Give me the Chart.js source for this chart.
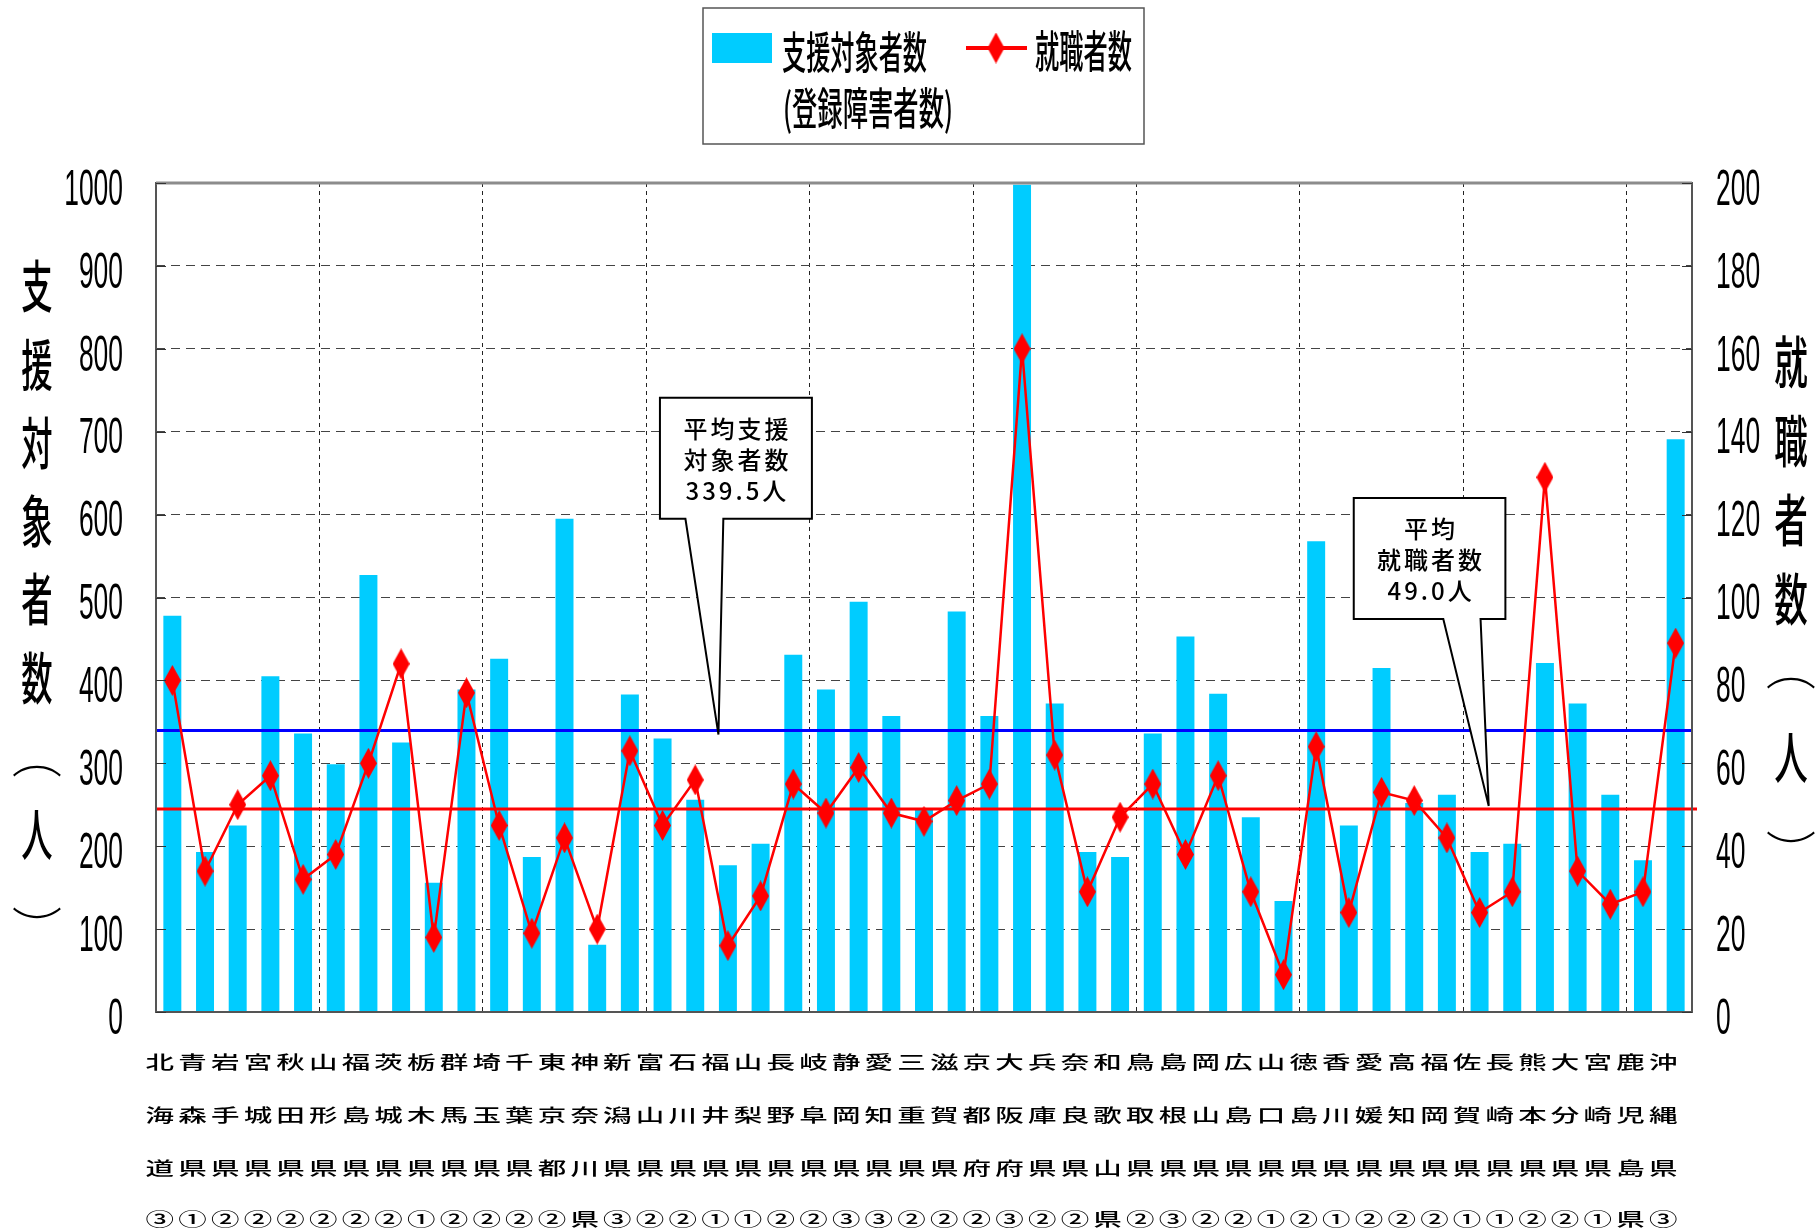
<!DOCTYPE html>
<html lang="ja">
<head>
<meta charset="utf-8">
<title>支援対象者数と就職者数</title>
<script src="https://cdn.jsdelivr.net/npm/chart.js@4.4.1/dist/chart.umd.min.js"></script>
<style>
  html, body { margin: 0; padding: 0; background: #fff; }
  canvas { display: block; }
</style>
</head>
<body>
<canvas id="chart" width="1820" height="1230"></canvas>
<script>
// categories: prefecture name + circled rank (4 vertical rows)
const prefectures = [
  '北海道', '青森県', '岩手県', '宮城県', '秋田県', '山形県', '福島県', '茨城県', '栃木県', '群馬県',
  '埼玉県', '千葉県', '東京都', '神奈川県', '新潟県', '富山県', '石川県', '福井県', '山梨県', '長野県',
  '岐阜県', '静岡県', '愛知県', '三重県', '滋賀県', '京都府', '大阪府', '兵庫県', '奈良県', '和歌山県',
  '鳥取県', '島根県', '岡山県', '広島県', '山口県', '徳島県', '香川県', '愛媛県', '高知県', '福岡県',
  '佐賀県', '長崎県', '熊本県', '大分県', '宮崎県', '鹿児島県', '沖縄県'
];
const ranks = [
  '③', '①', '②', '②', '②', '②', '②', '②', '①', '②',
  '②', '②', '②', '', '③', '②', '②', '①', '①', '②',
  '②', '③', '③', '②', '②', '②', '③', '②', '②', '',
  '②', '③', '②', '②', '①', '②', '①', '②', '②', '②',
  '①', '①', '②', '②', '①', '', '③'
];

// 支援対象者数（登録障害者数） - left axis
const supportCounts = [
  478, 193, 225, 405, 336, 299, 527, 325, 156, 389,
  426, 187, 595, 81, 383, 330, 256, 177, 203, 431,
  389, 495, 357, 245, 483, 357, 998, 372, 193, 187,
  336, 453, 384, 235, 134, 568, 225, 415, 252, 262,
  193, 203, 421, 372, 262, 183, 691
];

// 就職者数 - right axis
const jobCounts = [
  80, 34, 50, 57, 32, 38, 60, 84, 18, 77,
  45, 19, 42, 20, 63, 45, 56, 16, 28, 55,
  48, 59, 48, 46, 51, 55, 160, 62, 29, 47,
  55, 38, 57, 29, 9, 64, 24, 53, 51, 42,
  24, 29, 129, 34, 26, 29, 89
];

const avgSupport = 339.5;
const avgJobs = 49.0;

const leftTitle = '支援対象者数︵人︶';
const rightTitle = '就職者数︵人︶';

const JP = '"Noto Sans CJK JP", "Noto Sans CJK SC", sans-serif';
const NARROW = '"Liberation Sans Narrow", "Liberation Sans", sans-serif';

// tall red diamond used as point marker
function makeDiamond(w, h) {
  const c = document.createElement('canvas');
  c.width = w; c.height = h;
  const g = c.getContext('2d');
  g.fillStyle = '#ff0000';
  g.beginPath();
  g.moveTo(w / 2, 0); g.lineTo(w, h / 2); g.lineTo(w / 2, h); g.lineTo(0, h / 2);
  g.closePath();
  g.fill();
  return c;
}
const diamond = makeDiamond(17, 31);

function squash(ctx, text, x, y, sx, sy, align) {
  ctx.save();
  ctx.translate(x, y);
  ctx.scale(sx, sy);
  ctx.textAlign = align || 'center';
  ctx.textBaseline = 'middle';
  ctx.fillText(text, 0, 0);
  ctx.restore();
}

function drawCallout(ctx, c) {
  ctx.save();
  ctx.beginPath();
  ctx.moveTo(c.left, c.top);
  ctx.lineTo(c.right, c.top);
  ctx.lineTo(c.right, c.bottom);
  ctx.lineTo(c.base1, c.bottom);
  ctx.lineTo(c.tipX, c.tipY);
  ctx.lineTo(c.base0, c.bottom);
  ctx.lineTo(c.left, c.bottom);
  ctx.closePath();
  ctx.fillStyle = '#fff';
  ctx.fill();
  ctx.strokeStyle = '#000';
  ctx.lineWidth = 2;
  ctx.stroke();
  ctx.fillStyle = '#000';
  ctx.font = '500 24px ' + JP;
  ctx.letterSpacing = '3px';
  ctx.textAlign = 'center';
  ctx.textBaseline = 'middle';
  const cx = (c.left + c.right) / 2 + 1.5;
  [30.7, 62.2, 92.9].forEach((dy, k) => ctx.fillText(c.lines[k], cx, c.top + dy));
  ctx.restore();
}

const decor = {
  id: 'decor',
  beforeDatasetDraw(chart, args) {
    // average lines go under the 就職者数 line
    if (args.index !== 1) return;
    const { ctx, chartArea: a, scales: { y, y2 } } = chart;
    ctx.save();
    ctx.lineWidth = 3;
    ctx.strokeStyle = '#0000ff';
    let py = y.getPixelForValue(avgSupport);
    ctx.beginPath(); ctx.moveTo(a.left, py); ctx.lineTo(a.right, py); ctx.stroke();
    ctx.strokeStyle = '#ff0000';
    py = y2.getPixelForValue(avgJobs);
    ctx.beginPath(); ctx.moveTo(a.left, py); ctx.lineTo(a.right + 5, py); ctx.stroke();
    ctx.restore();
  },
  afterDraw(chart) {
    const { ctx, chartArea: a, scales: { x, y, y2 } } = chart;
    ctx.save();

    // plot frame
    ctx.strokeStyle = '#555';
    ctx.lineWidth = 2;
    ctx.strokeRect(a.left, a.top, a.right - a.left, a.bottom - a.top);
    ctx.strokeStyle = '#8c8c8c';
    ctx.lineWidth = 3;
    ctx.beginPath(); ctx.moveTo(a.left, a.top); ctx.lineTo(a.right, a.top); ctx.stroke();

    // inward tick marks
    ctx.strokeStyle = '#333';
    ctx.lineWidth = 1;
    y.ticks.forEach(t => {
      const py = Math.round(y.getPixelForValue(t.value)) + 0.5;
      ctx.beginPath();
      ctx.moveTo(a.left, py); ctx.lineTo(a.left + 10, py);
      ctx.moveTo(a.right - 10, py); ctx.lineTo(a.right, py);
      ctx.stroke();
    });

    // tick labels (condensed digits)
    ctx.fillStyle = '#000';
    ctx.font = '50px ' + NARROW;
    const dsx = 14.7 / ctx.measureText('0').width;
    y.ticks.forEach(t => squash(ctx, String(t.value), a.left - 33, y.getPixelForValue(t.value) + 8, dsx, 1, 'right'));
    y2.ticks.forEach(t => squash(ctx, String(t.value), a.right + 24, y2.getPixelForValue(t.value) + 8, dsx, 1, 'left'));

    // vertical category labels (wide, flattened glyphs)
    ctx.font = '500 30px ' + JP;
    const rowY = [50, 103, 156, 207];
    prefectures.forEach((p, i) => {
      const px = x.getPixelForValue(i) - 12.5;
      Array.from(p + ranks[i]).forEach((ch, r) => squash(ctx, ch, px, a.bottom + rowY[r], 0.95, 0.6, 'center'));
    });

    // axis titles (vertical), brackets drawn thin and flat
    const titleChar = (ch, cx, cy, sx) => {
      if (ch === '︵' || ch === '︶') {
        ctx.font = '300 56px ' + JP;
        squash(ctx, ch, cx, cy + (ch === '︶' ? 16 : 0), 0.9, 0.8, 'center');
      } else {
        ctx.font = '500 56px ' + JP;
        squash(ctx, ch, cx, cy, sx, 1, 'center');
      }
    };
    Array.from(leftTitle).forEach((ch, k) => titleChar(ch, 37, 286 + k * 78.3, 0.56));
    Array.from(rightTitle).forEach((ch, k) => titleChar(ch, 1791, 362 + k * 79 - (ch === '︵' ? 10 : 0), 0.6));

    // callouts
    drawCallout(ctx, {
      left: x.getPixelForValue(14.92), right: x.getPixelForValue(19.57),
      top: y.getPixelForValue(741), bottom: y.getPixelForValue(595),
      base0: x.getPixelForValue(15.70), base1: x.getPixelForValue(16.86),
      tipX: x.getPixelForValue(16.71), tipY: y.getPixelForValue(avgSupport) + 4,
      lines: ['平均支援', '対象者数', avgSupport.toFixed(1) + '人']
    });
    drawCallout(ctx, {
      left: x.getPixelForValue(36.15), right: x.getPixelForValue(40.79),
      top: y.getPixelForValue(620), bottom: y.getPixelForValue(474),
      base0: x.getPixelForValue(38.89), base1: x.getPixelForValue(40.03),
      tipX: x.getPixelForValue(40.28), tipY: y2.getPixelForValue(avgJobs) - 3,
      lines: ['平均', '就職者数', avgJobs.toFixed(1) + '人']
    });

    // legend
    ctx.fillStyle = '#fff';
    ctx.fillRect(703, 8, 441, 136);
    ctx.strokeStyle = '#555';
    ctx.lineWidth = 1.5;
    ctx.strokeRect(703, 8, 441, 136);
    ctx.fillStyle = '#00ccff';
    ctx.fillRect(712, 33, 60, 30);
    ctx.strokeStyle = '#ff0000';
    ctx.lineWidth = 4;
    ctx.beginPath(); ctx.moveTo(966, 48); ctx.lineTo(1027, 48); ctx.stroke();
    ctx.drawImage(diamond, 996 - diamond.width / 2, 48 - diamond.height / 2);
    ctx.fillStyle = '#000';
    ctx.font = '500 44px ' + JP;
    [['支援対象者数', 782, 52, 145], ['(登録障害者数)', 783, 108, 170], ['就職者数', 1035, 51, 97]]
      .forEach(([t, lx, cy, w]) => squash(ctx, t, lx, cy, w / ctx.measureText(t).width, 1, 'left'));

    ctx.restore();
  }
};

new Chart(document.getElementById('chart'), {
  data: {
    labels: prefectures,
    datasets: [
      {
        type: 'bar',
        label: '支援対象者数（登録障害者数）',
        data: supportCounts,
        backgroundColor: '#00ccff',
        borderWidth: 0,
        barPercentage: 0.55,
        categoryPercentage: 1,
        yAxisID: 'y',
        order: 2
      },
      {
        type: 'line',
        label: '就職者数',
        data: jobCounts,
        borderColor: '#ff0000',
        borderWidth: 2.5,
        pointStyle: diamond,
        pointRadius: 8,
        tension: 0,
        yAxisID: 'y2',
        order: 1
      }
    ]
  },
  options: {
    responsive: false,
    devicePixelRatio: 1,
    animation: false,
    layout: { padding: { top: 183, left: 0, right: 0, bottom: 0 } },
    plugins: { legend: { display: false }, tooltip: { enabled: false } },
    scales: {
      x: {
        type: 'category',
        offset: true,
        grid: {
          offset: true,
          drawTicks: false,
          lineWidth: 1,
          color: c => (c.index > 0 && c.index % 5 === 0) ? '#222' : 'rgba(0,0,0,0)'
        },
        border: { display: false, dash: [4, 4] },
        ticks: { display: false },
        afterFit: s => { s.height = 218; }
      },
      y: {
        position: 'left',
        min: 0,
        max: 1000,
        ticks: { stepSize: 100, display: false },
        grid: { color: '#444', lineWidth: 1, drawTicks: false },
        border: { display: false, dash: [9, 6] },
        afterFit: s => { s.width = 156; }
      },
      y2: {
        position: 'right',
        min: 0,
        max: 200,
        ticks: { stepSize: 20, display: false },
        grid: { drawOnChartArea: false, drawTicks: false },
        border: { display: false },
        afterFit: s => { s.width = 128; }
      }
    }
  },
  plugins: [decor]
});
</script>
</body>
</html>
